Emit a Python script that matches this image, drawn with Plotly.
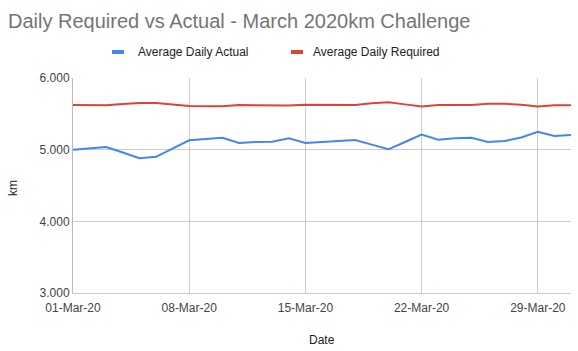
import plotly.graph_objects as go
import pandas as pd

dates = pd.date_range("2020-03-01", "2020-03-31", freq="D")
actual = [5.00, 5.02, 5.037, 4.96, 4.88, 4.90, 5.01, 5.13, 5.15, 5.167,
          5.093, 5.107, 5.11, 5.16, 5.093, 5.107, 5.12, 5.135, 5.07, 5.005,
          5.107, 5.21, 5.14, 5.16, 5.167, 5.107, 5.12, 5.17, 5.25, 5.19, 5.205]
required = [5.623, 5.622, 5.62, 5.637, 5.65, 5.65, 5.632, 5.61, 5.605, 5.605,
            5.622, 5.623, 5.62, 5.615, 5.628, 5.628, 5.627, 5.623, 5.646, 5.66,
            5.632, 5.604, 5.623, 5.623, 5.625, 5.64, 5.64, 5.628, 5.604, 5.62, 5.62]
series_names = ["Average Daily Actual", "Average Daily Required"]
series_colors = ["#4285F4", "#DB4437"]
tick_dates = ["2020-03-01", "2020-03-08", "2020-03-15", "2020-03-22", "2020-03-29"]
tick_labels = ["01-Mar-20", "08-Mar-20", "15-Mar-20", "22-Mar-20", "29-Mar-20"]
y_ticks = [3, 4, 5, 6]
y_tick_labels = ["3.000", "4.000", "5.000", "6.000"]

FONT = "Liberation Sans, Arial, sans-serif"

fig = go.Figure()
for name, vals, col in zip(series_names, [actual, required], series_colors):
    fig.add_trace(go.Scatter(x=dates, y=vals, mode="lines", name=name,
                             line=dict(color=col, width=2), showlegend=False))

W, H = 578, 351
L, R, T, B = 73, 7, 78, 58
pw = W - L - R
ph = H - T - B

def px_x(px):
    return (px - L) / pw

def px_y(py):
    return (H - B - py) / ph

# custom legend
legend_items = [(112, 136), (291, 311)]
for (mx, tx), name, col in zip(legend_items, series_names, series_colors):
    fig.add_shape(type="rect", xref="paper", yref="paper",
                  x0=px_x(mx), x1=px_x(mx + 12), y0=px_y(54), y1=px_y(50),
                  fillcolor=col, line=dict(width=0))
    fig.add_annotation(xref="paper", yref="paper", x=px_x(tx), y=px_y(52),
                       xanchor="left", yanchor="middle", showarrow=False,
                       text=name, font=dict(family=FONT, size=12, color="#222222"))

# axis titles
fig.add_annotation(xref="paper", yref="paper", x=px_x(13), y=px_y(188),
                   xanchor="center", yanchor="middle", showarrow=False, textangle=-90,
                   text="km", font=dict(family=FONT, size=12, color="#222222"))
fig.add_annotation(xref="paper", yref="paper", x=px_x(322), y=px_y(340),
                   xanchor="center", yanchor="middle", showarrow=False,
                   text="Date", font=dict(family=FONT, size=12, color="#222222"))

fig.update_layout(
    width=W, height=H,
    margin=dict(l=L, r=R, t=T, b=B),
    paper_bgcolor="white", plot_bgcolor="white",
    title=dict(text="Daily Required vs Actual - March 2020km Challenge",
               x=8 / W, xanchor="left", y=1 - 21 / H, yanchor="middle",
               font=dict(family=FONT, size=20, color="#757575")),
    font=dict(family=FONT, size=12, color="#444444"),
)
fig.update_xaxes(type="date", range=["2020-03-01", "2020-03-31"],
                 tickvals=tick_dates, ticktext=tick_labels,
                 showgrid=True, gridcolor="#cccccc", gridwidth=1,
                 showline=True, linecolor="#cccccc", linewidth=1,
                 ticks="", zeroline=False, ticklabelstandoff=4,
                 tickfont=dict(family=FONT, size=12, color="#444444"))
fig.update_yaxes(range=[3, 6], tickvals=y_ticks, ticktext=y_tick_labels,
                 showgrid=True, gridcolor="#cccccc", gridwidth=1,
                 showline=True, linecolor="#bbbbbb", linewidth=1,
                 ticks="", zeroline=False,
                 tickfont=dict(family=FONT, size=12, color="#444444"))

fig.write_html("out.html")
